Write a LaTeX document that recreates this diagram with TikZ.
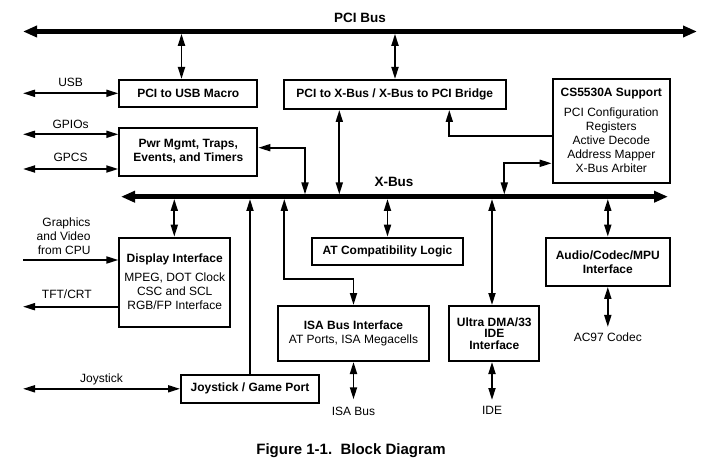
\documentclass[tikz,border=0pt]{standalone}
\usepackage{fontspec}
\setmainfont{Liberation Sans}
\usetikzlibrary{arrows.meta}

\newcommand\diagsize{\fontsize{12}{14}\selectfont}
\tikzset{
  blk/.style={draw, line width=2pt, align=center, inner sep=1pt, font=\diagsize},
  bblk/.style={blk, font=\diagsize\bfseries},
  lbl/.style={inner sep=0pt, text depth=0pt, font=\diagsize},
  buslbl/.style={font=\fontsize{13.5}{16}\selectfont\bfseries},
  bus/.style={line width=4.5pt, >={Triangle[length=14pt,width=11pt]}, <->},
  dbl/.style={line width=1.8pt, >={Triangle[length=12pt,width=7pt]}, <->},
  sarr/.style={line width=1.8pt, >={Triangle[length=12pt,width=7pt]}, ->}
}

\begin{document}
\begin{tikzpicture}[x=1pt, y=-1pt]
\useasboundingbox (0,0) rectangle (721,476);
% buses
\coordinate (pciL) at (23,31.5);
\coordinate (pciR) at (697,31.5);
\coordinate (pcib) at (0,33.8);
\coordinate (xbL) at (121,196.7);
\coordinate (xbR) at (668,196.7);
\coordinate (xbt) at (0,194.4);
\coordinate (xbb) at (0,199);
\draw[bus] (pciL) -- (pciR);
\draw[bus] (xbL) -- (xbR);
\node[buslbl] (pcilbl) at (360,18) {PCI Bus};
\node[buslbl] (xblbl) at (394,182) {X-Bus};

% blocks
\node[bblk, minimum width=138pt, minimum height=26.7pt] (usb) at (188.3,93.3) {PCI to USB Macro};
\node[bblk, minimum width=138pt, minimum height=48pt] (pwr) at (188.3,151.7) {Pwr Mgmt, Traps,\\Events, and Timers};
\node[bblk, minimum width=221.7pt, minimum height=29pt] (bridge) at (394.8,94.5) {PCI to X-Bus / X-Bus to PCI Bridge};
\node[blk, minimum width=117.3pt, minimum height=103.7pt] (cs) at (611.3,130.8) {\textbf{CS5530A Support}\\[6pt] PCI Configuration\\ Registers\\ Active Decode\\ Address Mapper\\ X-Bus Arbiter};
\node[blk, minimum width=110.7pt, minimum height=89pt] (disp) at (174.7,282.2) {\textbf{Display Interface}\\[5pt] MPEG, DOT Clock\\ CSC and SCL\\ RGB/FP Interface};
\node[bblk, minimum width=151.6pt, minimum height=27.3pt] (atc) at (387.5,251.3) {AT Compatibility Logic};
\node[blk, minimum width=151.6pt, minimum height=55pt] (isa) at (353.5,333.5) {\textbf{ISA Bus Interface}\\ AT Ports, ISA Megacells};
\node[bblk, minimum width=90pt, minimum height=55pt, font=\fontsize{12}{11.5}\selectfont\bfseries] (ide) at (494.3,333.5) {Ultra DMA/33\\ IDE\\ Interface};
\node[bblk, minimum width=124.3pt, minimum height=48.3pt] (audio) at (607.8,261.8) {Audio/Codec/MPU\\ Interface};
\node[bblk, minimum width=138pt, minimum height=27.7pt] (joy) at (250,388.8) {Joystick / Game Port};

% upper connectors
\draw[dbl] (181.5,0 |- pcib) -- (181.5,0 |- usb.north);
\draw[dbl] (395,0 |- pcib) -- (395,0 |- bridge.north);
\draw[dbl] (usb.west) -- (usb.west -| pciL) node[lbl, midway, above=6pt] (usbl) {USB};
\draw[dbl] (pwr.west |- 0,134.3) -- (pciL |- 0,134.3) node[lbl, midway, above=5pt] (gpiol) {GPIOs};
\draw[dbl] (pwr.west |- 0,169) -- (pciL |- 0,169) node[lbl, midway, above=7pt] (gpcsl) {GPCS};
\draw[dbl] (pwr.east |- 0,147.7) -| (305,0 |- xbt);
\draw[dbl] (339.3,0 |- bridge.south) -- (339.3,0 |- xbt);
\draw[sarr] (cs.west |- 0,136) -| (449.3,0 |- bridge.south);
\draw[dbl] (504.3,0 |- xbt) |- (cs.west |- 0,163.3);

% lower connectors
\draw[dbl] (174.3,0 |- xbb) -- (174.3,0 |- disp.north);
\draw[sarr] (pciL |- 0,260) -- (disp.west |- 0,260);
\node[lbl, align=right, anchor=east] (gfx) at (90.7,235.7) {Graphics\\ and Video\\ from CPU};
\draw[sarr] (disp.west |- 0,306.7) -- (pciL |- 0,306.7) node[lbl, pos=0.54, above=7pt] (tftl) {TFT/CRT};
\draw[sarr] (joy.north) -- (joy.north |- xbb);
\draw[dbl] (joy.west) -- (joy.west -| pciL) node[lbl, midway, above=5pt] (joyl) {Joystick};
\draw[dbl] (284.3,0 |- xbb) |- (isa.north |- 0,279) -- (isa.north);
\draw[dbl] (atc.north |- xbb) -- (atc.north);
\draw[dbl] (isa.south) -- ++(0,37.3) node[lbl, below=7pt] (isabus) {ISA Bus};
\draw[dbl] (492,0 |- xbb) -- (492,0 |- ide.north);
\draw[dbl] (492,0 |- ide.south) -- (492,400) node[lbl, below=5.5pt] (idel) {IDE};
\draw[dbl] (audio.north |- xbb) -- (audio.north);
\draw[dbl] (audio.south) -- ++(0,40) node[lbl, below=4.5pt] (ac97) {AC97 Codec};

\node[font=\fontsize{15}{18}\selectfont\bfseries] (title) at (351,451) {Figure 1-1.\ \ Block Diagram};
\end{tikzpicture}
\end{document}
